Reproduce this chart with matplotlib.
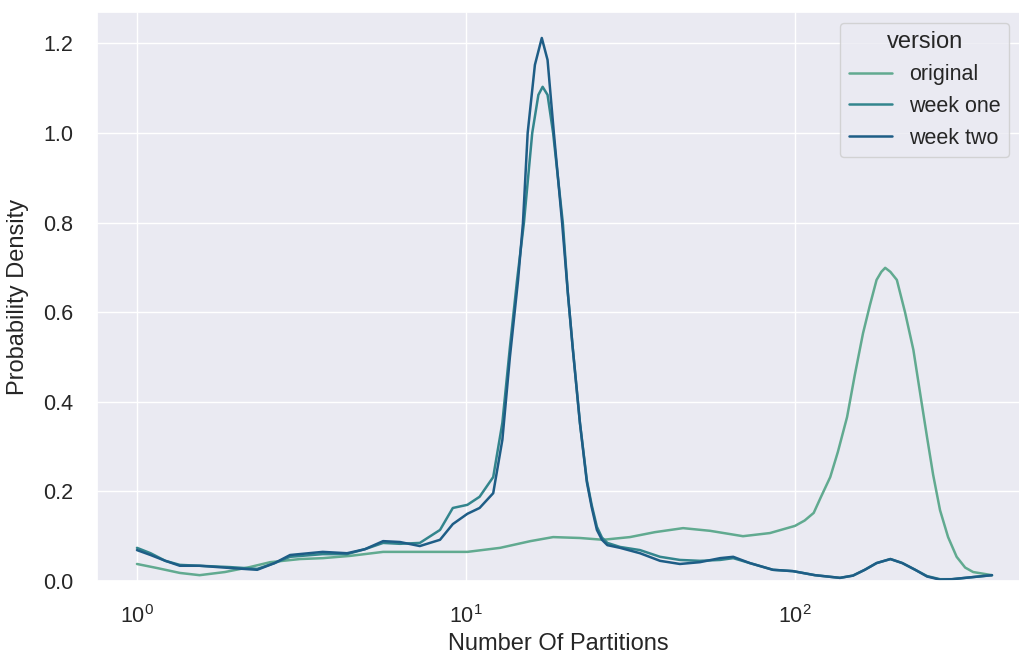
import matplotlib
matplotlib.use("Agg")
from matplotlib import pyplot as plt
import seaborn as sns
import numpy as np

# curves (x = number of partitions, y = density)
versions = ["original", "week one", "week two"]

orig_x = [1.00, 1.15, 1.35, 1.55, 1.85, 2.20, 2.54, 3.13, 3.67, 4.44, 5.60, 7.24, 10.1, 12.7,
          15.7, 18.4, 22.2, 26.1, 31.5, 37.5, 45.7, 55.2, 69.5, 83.9, 100, 107, 114, 120, 128,
          135, 144, 152, 161, 169, 177, 183, 188, 195, 204, 216, 229, 240, 252, 263, 276, 292,
          310, 329, 348, 397]
orig_y = [0.038, 0.029, 0.018, 0.013, 0.020, 0.031, 0.042, 0.049, 0.051, 0.056, 0.065, 0.065,
          0.065, 0.074, 0.089, 0.098, 0.096, 0.092, 0.098, 0.109, 0.118, 0.112, 0.100, 0.107,
          0.123, 0.135, 0.152, 0.188, 0.232, 0.288, 0.366, 0.460, 0.553, 0.616, 0.672, 0.690,
          0.699, 0.690, 0.672, 0.600, 0.516, 0.420, 0.321, 0.237, 0.158, 0.098, 0.054, 0.030,
          0.020, 0.013]

wk1_x = [1.00, 1.10, 1.22, 1.35, 1.55, 1.92, 2.32, 2.62, 2.92, 3.67, 4.35, 4.93, 5.60, 6.30,
         7.24, 8.34, 9.12, 10.1, 11.0, 12.1, 12.9, 13.6, 14.3, 15.0, 15.9, 16.6, 17.1, 17.7,
         18.4, 19.7, 20.4, 21.1, 22.2, 23.3, 24.1, 25.0, 25.9, 26.9, 29.4, 33.8, 38.9, 44.7,
         51.4, 59.2, 64.9, 72.9, 85.7, 98.6, 115, 137, 150, 163, 177, 195, 212, 232, 252, 276,
         300, 329, 397]
wk1_y = [0.074, 0.062, 0.045, 0.036, 0.034, 0.031, 0.027, 0.040, 0.054, 0.060, 0.060, 0.071,
         0.085, 0.083, 0.085, 0.114, 0.163, 0.170, 0.188, 0.232, 0.353, 0.522, 0.672, 0.799,
         1.000, 1.085, 1.103, 1.085, 1.000, 0.799, 0.643, 0.522, 0.353, 0.225, 0.170, 0.121,
         0.097, 0.085, 0.076, 0.069, 0.054, 0.047, 0.045, 0.047, 0.051, 0.040, 0.025, 0.022,
         0.013, 0.007, 0.012, 0.025, 0.040, 0.049, 0.040, 0.025, 0.011, 0.004, 0.004, 0.007,
         0.013]

wk2_x = [1.00, 1.10, 1.22, 1.35, 1.55, 1.92, 2.32, 2.62, 2.92, 3.67, 4.35, 4.93, 5.60, 6.30,
         7.24, 8.34, 9.12, 10.1, 11.0, 12.1, 12.9, 13.6, 14.4, 14.9, 15.4, 16.2, 17.0, 17.7,
         18.5, 19.6, 20.4, 21.1, 22.2, 23.3, 24.1, 25.0, 25.9, 26.9, 29.4, 33.8, 38.9, 44.7,
         51.4, 59.2, 64.9, 72.9, 85.7, 98.6, 115, 137, 150, 163, 177, 195, 212, 232, 252, 276,
         300, 329, 397]
wk2_y = [0.069, 0.058, 0.045, 0.034, 0.034, 0.029, 0.025, 0.040, 0.058, 0.065, 0.062, 0.071,
         0.089, 0.087, 0.078, 0.092, 0.127, 0.150, 0.163, 0.196, 0.315, 0.500, 0.672, 0.799,
         1.000, 1.152, 1.212, 1.163, 1.000, 0.799, 0.643, 0.522, 0.353, 0.221, 0.165, 0.114,
         0.092, 0.080, 0.074, 0.062, 0.045, 0.038, 0.042, 0.051, 0.054, 0.040, 0.025, 0.022,
         0.013, 0.007, 0.012, 0.025, 0.040, 0.049, 0.040, 0.025, 0.010, 0.003, 0.004, 0.007,
         0.013]

sns.set_theme(style="darkgrid")
plt.rcParams['font.family'] = ['Liberation Sans', 'DejaVu Sans']
plt.rcParams['mathtext.fontset'] = 'custom'
plt.rcParams['mathtext.rm'] = 'Liberation Sans'
plt.rcParams['mathtext.it'] = 'Liberation Sans:italic'

colors = sns.color_palette("crest", 3)

fig = plt.figure(figsize=(10.2, 6.66), dpi=100)
ax = fig.add_axes([97 / 1020, 85 / 666, 923 / 1020, 569 / 666])

curves = [(orig_x, orig_y), (wk1_x, wk1_y), (wk2_x, wk2_y)]
for (xs, ys), name, c in zip(curves, versions, colors):
    ax.plot(xs, ys, color=c, lw=1.8, label=name, solid_joinstyle='round')

ax.set_xscale('log')
ax.set_xlim(0.756, 483)
ax.set_ylim(0, 1.27)
ax.set_yticks(np.arange(0, 1.21, 0.2))
ax.minorticks_off()
ax.tick_params(axis='both', labelsize=15.5, length=0, pad=17)

ax.set_xlabel("Number Of Partitions", fontsize=17, labelpad=4)
ax.set_ylabel("Probability Density", fontsize=17, labelpad=10)

leg = ax.legend(title="version", loc="upper right", fontsize=15.5, title_fontsize=17)

fig.savefig("out.png", dpi=100)
